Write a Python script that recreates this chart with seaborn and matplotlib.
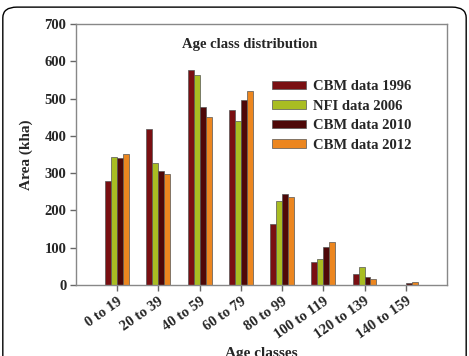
import pandas as pd
import matplotlib
matplotlib.use("Agg")
import matplotlib.pyplot as plt
from matplotlib.patches import FancyBboxPatch
import seaborn as sns

sns.set_style("white")
plt.rcParams['font.family'] = ['Liberation Serif', 'DejaVu Serif']
plt.rcParams['font.weight'] = 'bold'

age_classes = ['0 to 19', '20 to 39', '40 to 59', '60 to 79', '80 to 99',
               '100 to 119', '120 to 139', '140 to 159']
series_names = ['CBM data 1996', 'NFI data 2006', 'CBM data 2010', 'CBM data 2012']
cbm_1996 = [280, 419, 576, 469, 163, 61, 29, 0]
nfi_2006 = [343, 328, 563, 439, 226, 71, 49, 0]
cbm_2010 = [341, 306, 478, 495, 243, 103, 21, 7]
cbm_2012 = [351, 298, 451, 520, 236, 116, 17, 8]
colors = ['#7a0f12', '#a9bd22', '#4e0808', '#ec861f']

rows = []
for name, vals in zip(series_names, [cbm_1996, nfi_2006, cbm_2010, cbm_2012]):
    for cls, v in zip(age_classes, vals):
        rows.append({'age': cls, 'area': v, 'series': name})
df = pd.DataFrame(rows)

fig = plt.figure(figsize=(4.69, 3.56), dpi=100)
ax = fig.add_axes([0.162, 0.199, 0.791, 0.734])

sns.barplot(data=df, x='age', y='area', hue='series', order=age_classes,
            hue_order=series_names, palette=colors, width=0.58, ax=ax,
            edgecolor='#555555', linewidth=0.5, saturation=1)

ax.set_xlim(-1, 8)
ax.set_ylim(0, 700)
ax.set_yticks(range(0, 701, 100))
for s in ax.spines.values():
    s.set_visible(True)
    s.set_color('#888888')
    s.set_linewidth(1)
ax.tick_params(axis='both', direction='out', length=4, width=1, color='#666666',
               labelsize=10.5, pad=3, left=True, bottom=True)
for lbl in ax.get_yticklabels():
    lbl.set_fontweight('bold')
plt.setp(ax.get_xticklabels(), rotation=35, ha='right', rotation_mode='anchor',
         fontweight='bold')

ax.set_xlabel('Age classes', fontsize=11, fontweight='bold', labelpad=4)
ax.set_ylabel('Area (kha)', fontsize=11, fontweight='bold', labelpad=8)
ax.text(0.468, 0.92, 'Age class distribution', transform=ax.transAxes,
        ha='center', va='center', fontsize=10.5, fontweight='bold')

ax.legend(loc='upper left', bbox_to_anchor=(0.494, 0.835), frameon=False,
          prop={'size': 10.5, 'weight': 'bold'}, handlelength=2.3,
          handleheight=0.5, labelspacing=0.45, handletextpad=0.5)

frame = FancyBboxPatch((0.006, -0.1), 0.988, 1.08, transform=fig.transFigure,
                       boxstyle='round,pad=0,rounding_size=0.03',
                       facecolor='none', edgecolor='black', linewidth=1,
                       figure=fig)
fig.patches.append(frame)

fig.savefig('out.png', dpi=100)
